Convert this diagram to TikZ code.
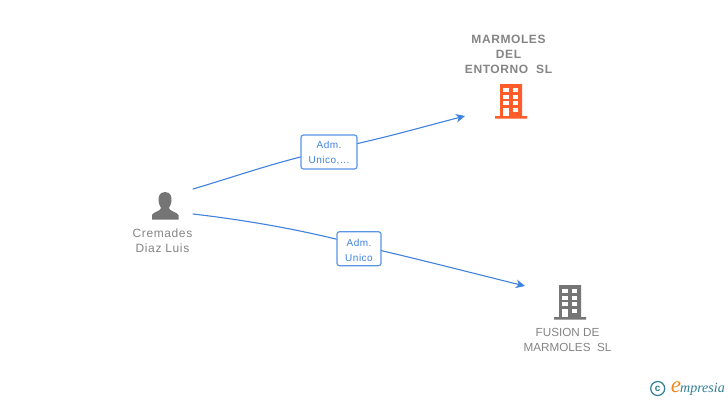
\documentclass[tikz,border=0pt]{standalone}
\usepackage{fontspec}
\setmainfont{Liberation Sans}
\usetikzlibrary{arrows.meta}
\definecolor{txtgrey}{HTML}{858585}
\definecolor{icongrey}{HTML}{757575}
\definecolor{linkblue}{HTML}{3F82E0}
\definecolor{boxblue}{HTML}{5B95E6}
\definecolor{orangeicon}{HTML}{FF5C2B}
\definecolor{logoteal}{HTML}{2F7F96}
\definecolor{logoorange}{HTML}{F08A1E}
\newfontfamily\spacedfont[LetterSpace=5]{Liberation Sans}
\newfontfamily\smallfont[LetterSpace=5]{Liberation Sans}
\newfontfamily\logofont{Liberation Serif}
\tikzset{
  x=1pt,y=-1pt,
  lbl/.style={text=txtgrey,align=center,inner sep=0pt,font=\spacedfont\fontsize{12}{15}\selectfont},
  plainlbl/.style={text=txtgrey,align=center,inner sep=0pt,font=\fontsize{11.7}{15}\selectfont},
  blbl/.style={text=txtgrey,align=center,inner sep=0pt,font=\spacedfont\bfseries\fontsize{12}{15}\selectfont},
  rolebox/.style={draw=boxblue,line width=1.2pt,rounded corners=2.5pt,fill=white,text=linkblue,align=center,inner sep=0pt,font=\smallfont\fontsize{10}{15}\selectfont},
  link/.style={draw=linkblue,line width=1.1pt,line cap=round},
  linkarrow/.style={link,-{Stealth[length=9pt,width=8.5pt,inset=2.5pt]}},
  iconspot/.style={inner sep=0pt,minimum width=32pt,minimum height=35pt},
}
\newcommand{\towerat}[3]{%
  \begin{scope}[shift={(#1,#2)}]
    \fill[#3] (5,0) -- (27,0) -- (27,32) -- (32,32) -- (32,34.5) -- (0,34.5) -- (0,32) -- (5,32) -- cycle;
    \foreach \wy in {4,10.8,17.4} {
      \fill[white] (8.2,\wy) rectangle ++(5.4,4);
      \fill[white] (17.8,\wy) rectangle ++(5.4,4);
    }
    \fill[white] (8.2,24) rectangle (13.6,32);
    \fill[white] (17.8,24) rectangle (23.2,28.2);
  \end{scope}}
\begin{document}
\begin{tikzpicture}
\useasboundingbox (0,0) rectangle (728,400);
\fill[white] (0,0) rectangle (728,400);
% icons
\node[iconspot] (top) at (511,101.5) {};
\towerat{495}{84}{orangeicon}
\node[iconspot] (bottom) at (570,302.5) {};
\towerat{554}{285}{icongrey}
\node[inner sep=0pt,minimum width=28pt,minimum height=28pt] (person) at (165,205.5) {};
\fill[icongrey] (165,192) .. controls (159.5,192) and (158,197) .. (158.5,201)
  .. controls (159,205) and (160.5,206.5) .. (161,208)
  .. controls (161,211) and (153,212) .. (152,215) -- (152,219.5) -- (178.5,219.5) -- (178.5,215)
  .. controls (177,212) and (169,211) .. (169,208)
  .. controls (169.5,206.5) and (171,205) .. (171.5,201)
  .. controls (172,197) and (170.5,192) .. (165,192) -- cycle;
% labels
\node[blbl] (topname) at (508.5,54.7) {MARMOLES\\DEL\\ENTORNO\ \ SL};
\node[lbl] (personname) at (162.5,240.7) {Cremades\\Diaz Luis};
\node[plainlbl] (bottomname) at (567.5,339.7) {FUSION DE\\MARMOLES\ \ SL};
% connector ends
\coordinate (s1) at (193,189);
\coordinate (e1) at (465,116);
\coordinate (s2) at (193,214);
\coordinate (e2) at (525,286);
% connectors
\node[rolebox,minimum width=56pt,minimum height=34pt] (r1) at (329,152) {\rule{0pt}{10pt}Adm.\\Unico,...};
\node[rolebox,minimum width=44pt,minimum height=34pt] (r2) at (359,248.7) {\rule{0pt}{10pt}Adm.\\Unico};
\draw[link] (s1) .. controls (230,178) and (265,166) .. ([yshift=-5pt]r1.west);
\draw[linkarrow] ([yshift=8.5pt]r1.east) .. controls (395,135) and (430,125) .. (e1);
\draw[link] (s2) .. controls (245,220) and (295,229) .. ([yshift=9.5pt]r2.west);
\draw[linkarrow] ([yshift=-2pt]r2.east) .. controls (430,262) and (480,275) .. (e2);
% logo
\node[draw=logoteal,circle,line width=1.2pt,minimum size=14pt,inner sep=0pt,text=logoteal,font=\bfseries\fontsize{10}{10}\selectfont] (copy) at (657.7,388.5) {c};
\node[inner sep=0pt,text=logoorange,font=\logofont\itshape\fontsize{23}{23}\selectfont] (logoe) at (676,387.5) {e};
\node[inner sep=0pt,text=logoteal,anchor=west,font=\logofont\itshape\fontsize{14}{14}\selectfont] (logot) at (680,389.5) {mpresia};
\end{tikzpicture}
\end{document}
